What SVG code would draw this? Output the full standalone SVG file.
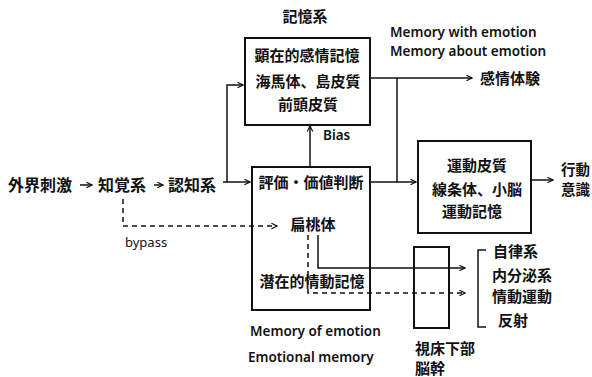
<svg xmlns="http://www.w3.org/2000/svg" width="592" height="377" viewBox="0 0 592 377">
<defs>
<style>
.j{font-family:"Noto Sans CJK JP","Noto Sans CJK SC",sans-serif;font-weight:700;font-size:15px;fill:#111}
.e{font-family:"Noto Sans","Liberation Sans",sans-serif;font-weight:600;font-size:13.5px;fill:#111}
.r{font-family:"Noto Sans","Liberation Sans",sans-serif;font-weight:400;font-size:13px;fill:#111}
.box{fill:none;stroke:#111;stroke-width:2}
.ln{fill:none;stroke:#111;stroke-width:1.5}
.dl{fill:none;stroke:#111;stroke-width:1.5;stroke-dasharray:5,4}
.m{text-anchor:middle}
</style>
<marker id="ah" viewBox="0 0 10 10" refX="9" refY="5" markerWidth="7" markerHeight="7" orient="auto" markerUnits="userSpaceOnUse">
<path d="M1,1 L9,5 L1,9" fill="none" stroke="#111" stroke-width="1.6"/>
</marker>
</defs>
<rect width="592" height="377" fill="#fff"/>

<g id="input-row">
<text class="j" x="8" y="191" style="font-size:16px">外界刺激</text>
<text class="j" x="98" y="191" style="font-size:16px">知覚系</text>
<text class="j" x="168" y="191" style="font-size:16px">認知系</text>
<text class="r" x="125" y="247">bypass</text>
</g>

<g id="memory-system">
<text class="j m" x="305" y="22">記憶系</text>
<rect class="box" x="245" y="38" width="125" height="87"/>
<text class="j m" x="307" y="61">顕在的感情記憶</text>
<text class="j m" x="308" y="87">海馬体、島皮質</text>
<text class="j m" x="308" y="110">前頭皮質</text>
</g>

<g id="memory-labels">
<text class="e" x="390" y="37">Memory with emotion</text>
<text class="e" x="390" y="56">Memory about emotion</text>
<text class="e" x="323" y="140">Bias</text>
</g>

<g id="feeling">
<text class="j" x="480" y="84">感情体験</text>
</g>

<g id="evaluation">
<rect class="box" x="252" y="167" width="118" height="143"/>
<text class="j m" x="311" y="188">評価・価値判断</text>
<text class="j m" x="313" y="230">扁桃体</text>
<text class="j m" x="312" y="287">潜在的情動記憶</text>
<text class="e" x="250" y="336">Memory of emotion</text>
<text class="e" x="248" y="362">Emotional memory</text>
</g>

<g id="motor">
<rect class="box" x="418" y="141" width="113" height="92"/>
<text class="j m" x="477" y="171">運動皮質</text>
<text class="j m" x="477" y="195">線条体、小脳</text>
<text class="j m" x="472" y="217">運動記憶</text>
</g>

<g id="action">
<text class="j" x="561" y="175" style="font-size:14.5px">行動</text>
<text class="j" x="561" y="195" style="font-size:14.5px">意識</text>
</g>

<g id="hypothalamus">
<rect class="box" x="414" y="247" width="35" height="81"/>
<text class="j" x="415" y="354">視床下部</text>
<text class="j" x="415" y="374">脳幹</text>
</g>

<g id="outputs">
<text class="j" x="493" y="257">自律系</text>
<text class="j" x="492" y="281">内分泌系</text>
<text class="j" x="492" y="302">情動運動</text>
<text class="j" x="498" y="326">反射</text>
</g>

<g id="connectors">
<line class="ln" x1="80" y1="185" x2="92" y2="185" marker-end="url(#ah)"/>
<line class="ln" x1="154" y1="185" x2="163" y2="185" marker-end="url(#ah)"/>
<polyline class="ln" points="223,182 250,182" marker-end="url(#ah)"/>
<polyline class="ln" points="227,182 227,85 243,85" marker-end="url(#ah)"/>
<polyline class="ln" points="370,182 416,182" marker-end="url(#ah)"/>
<polyline class="ln" points="370,78 472,78" marker-end="url(#ah)"/>
<polyline class="ln" points="397,78 397,182"/>
<polyline class="ln" points="310,167 310,126" marker-end="url(#ah)"/>
<polyline class="ln" points="531,180 553,180" marker-end="url(#ah)"/>
<polyline class="dl" points="123,199 123,226 277,226" marker-end="url(#ah)"/>
<polyline class="ln" points="318,235 318,268 465,268" marker-end="url(#ah)"/>
<polyline class="dl" points="308,235 308,293 465,293" marker-end="url(#ah)"/>
<polyline class="ln" points="486,250 478,250 478,327 486,327"/>
</g>
</svg>
